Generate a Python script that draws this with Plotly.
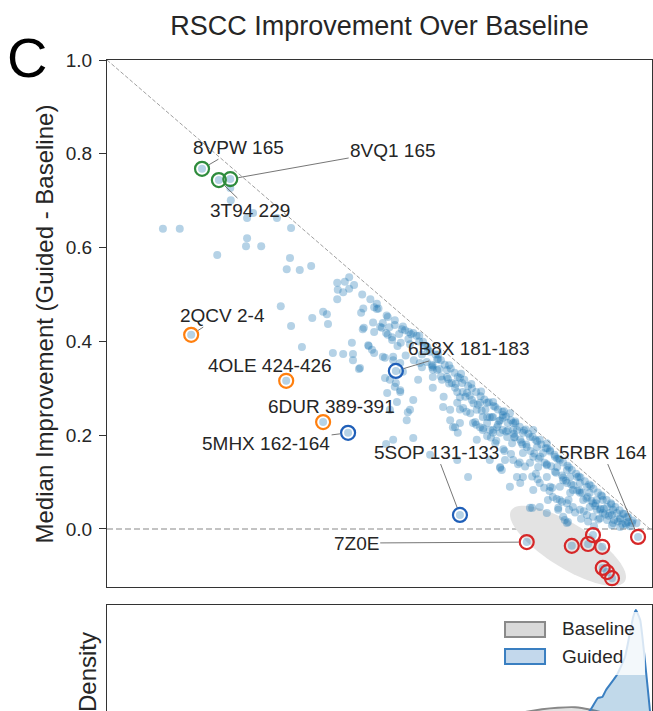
import numpy as np
import plotly.graph_objects as go

# ---------------- data ----------------
baseline_rscc = [
    0.103, 0.134, 0.228, 0.227, 0.269, 0.258, 0.313, 0.339, 0.258, 0.256, 0.284, 0.203, 0.337, 0.331, 0.355, 0.376,
    0.424, 0.425, 0.424, 0.320, 0.378, 0.398, 0.405, 0.339, 0.407, 0.359,
    0.446, 0.438, 0.446, 0.435, 0.468, 0.492, 0.497, 0.497, 0.517, 0.508, 0.530, 0.543, 0.471, 0.492, 0.506, 0.514,
    0.517, 0.525, 0.538, 0.549, 0.556, 0.564, 0.451, 0.482, 0.488, 0.492, 0.541, 0.558, 0.416, 0.435, 0.453, 0.464,
    0.512, 0.527, 0.575, 0.582, 0.591, 0.608, 0.599, 0.608, 0.453, 0.466, 0.473, 0.481, 0.503, 0.508, 0.512, 0.516,
    0.525, 0.530, 0.534, 0.521, 0.527, 0.514, 0.540, 0.554, 0.552, 0.595, 0.665, 0.641, 0.645, 0.711, 0.724, 0.733,
    0.779, 0.810, 0.831, 0.843, 0.847,
    0.527, 0.540, 0.545, 0.521, 0.532, 0.540, 0.564, 0.558, 0.573, 0.576, 0.589, 0.600, 0.610, 0.600, 0.617, 0.600,
    0.626, 0.626, 0.635, 0.641, 0.646, 0.654, 0.619, 0.632, 0.645, 0.650, 0.663, 0.672, 0.656, 0.669, 0.681, 0.687,
    0.692, 0.674, 0.687, 0.700, 0.711, 0.705, 0.718, 0.724, 0.729, 0.738, 0.748, 0.632, 0.637, 0.650, 0.646, 0.681,
    0.715, 0.746, 0.751, 0.564,
    0.700, 0.715, 0.729, 0.700, 0.724, 0.742, 0.748, 0.692, 0.711, 0.729, 0.737, 0.755, 0.766, 0.761, 0.779, 0.785,
    0.773, 0.792, 0.797, 0.810, 0.803, 0.816, 0.825, 0.785, 0.766, 0.748, 0.724, 0.705, 0.727, 0.779, 0.794, 0.810,
    0.829, 0.834, 0.847, 0.853, 0.840, 0.866, 0.871, 0.884, 0.858, 0.871, 0.889, 0.902, 0.895, 0.913, 0.921, 0.908,
    0.932, 0.939, 0.945, 0.958, 0.959, 0.967, 0.810, 0.816, 0.766, 0.761, 0.797, 0.785, 0.821, 0.834, 0.847, 0.858,
    0.871, 0.884, 0.895, 0.908, 0.921, 0.932, 0.945, 0.783, 0.812, 0.831, 0.840, 0.849, 0.797, 0.755, 0.742, 0.847,
    0.877, 0.889, 0.853, 0.834, 0.926, 0.913, 0.902,
    0.560, 0.575, 0.585, 0.595, 0.605, 0.615, 0.622, 0.633, 0.640, 0.650, 0.658, 0.665, 0.672, 0.680, 0.688, 0.695,
    0.703, 0.712, 0.720, 0.728, 0.735, 0.744, 0.752, 0.760, 0.768, 0.776, 0.784, 0.792, 0.800, 0.808, 0.816, 0.824,
    0.832, 0.840, 0.848, 0.856, 0.864, 0.872, 0.880, 0.888, 0.896, 0.904, 0.912, 0.920, 0.928, 0.936, 0.944, 0.952,
    0.960, 0.968, 0.975,
    0.600, 0.615, 0.630, 0.645, 0.660, 0.675, 0.690, 0.705, 0.720, 0.735, 0.750, 0.765, 0.780, 0.795, 0.810, 0.825,
    0.840, 0.855, 0.870, 0.885, 0.900, 0.915, 0.930, 0.945, 0.955,
    0.620, 0.650, 0.680, 0.700, 0.730, 0.760, 0.790, 0.820, 0.850, 0.878, 0.905, 0.930,
    0.580, 0.598, 0.612, 0.628, 0.642, 0.655, 0.668, 0.683, 0.697, 0.709, 0.722, 0.738, 0.749, 0.763, 0.772, 0.787,
    0.798, 0.806, 0.818, 0.827, 0.838, 0.845, 0.859, 0.866, 0.875, 0.883, 0.892, 0.899, 0.909, 0.917, 0.924, 0.934,
    0.941, 0.949, 0.956, 0.963,
    0.662, 0.678, 0.693, 0.707, 0.717, 0.732, 0.744, 0.757, 0.770, 0.783, 0.793, 0.805, 0.815, 0.828, 0.838, 0.851,
    0.862, 0.873, 0.886, 0.897,
    0.570, 0.590, 0.610, 0.630, 0.652, 0.671, 0.689, 0.711, 0.731, 0.752, 0.771, 0.789, 0.811, 0.829, 0.851, 0.869,
    0.891, 0.910, 0.929, 0.950,
    0.455, 0.470, 0.485, 0.500, 0.515, 0.530, 0.545, 0.555, 0.472, 0.490, 0.520, 0.535, 0.550, 0.565, 0.580,
    0.175, 0.206, 0.227, 0.155, 0.330, 0.398, 0.532, 0.444, 0.650, 0.773, 0.856, 0.886, 0.895, 0.912, 0.913, 0.921,
    0.930, 0.978,
]
improvement = [
    0.640, 0.640, 0.701, 0.727, 0.674, 0.663, 0.663, 0.642, 0.620, 0.603, 0.603, 0.584, 0.578, 0.554, 0.552, 0.561,
    0.525, 0.510, 0.490, 0.475, 0.450, 0.463, 0.458, 0.433, 0.437, 0.388,
    0.537, 0.527, 0.512, 0.505, 0.461, 0.473, 0.480, 0.469, 0.452, 0.439, 0.435, 0.426, 0.426, 0.420, 0.429, 0.418,
    0.414, 0.409, 0.416, 0.424, 0.420, 0.418, 0.397, 0.390, 0.382, 0.375, 0.397, 0.394, 0.375, 0.373, 0.373, 0.341,
    0.365, 0.360, 0.412, 0.399, 0.382, 0.362, 0.345, 0.339, 0.360, 0.343, 0.429, 0.392, 0.431, 0.367, 0.322, 0.290,
    0.403, 0.303, 0.271, 0.254, 0.190, 0.181, 0.296, 0.249, 0.232, 0.158, 0.111, 0.217, 0.147, 0.211, 0.130, 0.147,
    0.045, 0.034, 0.045, 0.019, 0.013,
    0.367, 0.354, 0.335, 0.318, 0.311, 0.292, 0.275, 0.254, 0.318, 0.354, 0.356, 0.348, 0.362, 0.324, 0.318, 0.301,
    0.339, 0.324, 0.311, 0.301, 0.324, 0.311, 0.260, 0.254, 0.269, 0.281, 0.290, 0.275, 0.258, 0.247, 0.254, 0.269,
    0.239, 0.226, 0.217, 0.226, 0.239, 0.211, 0.217, 0.205, 0.237, 0.226, 0.211, 0.232, 0.217, 0.226, 0.205, 0.190,
    0.183, 0.183, 0.196, 0.194,
    0.269, 0.260, 0.243, 0.239, 0.232, 0.247, 0.226, 0.211, 0.205, 0.211, 0.196, 0.211, 0.205, 0.190, 0.196, 0.211,
    0.175, 0.175, 0.190, 0.183, 0.162, 0.168, 0.154, 0.154, 0.162, 0.147, 0.132, 0.147, 0.126, 0.141, 0.132, 0.136,
    0.132, 0.147, 0.126, 0.111, 0.104, 0.111, 0.098, 0.090, 0.083, 0.077, 0.077, 0.062, 0.055, 0.062, 0.047, 0.041,
    0.041, 0.034, 0.023, 0.026, 0.015, 0.013, 0.111, 0.090, 0.111, 0.098, 0.098, 0.083, 0.068, 0.062, 0.055, 0.047,
    0.041, 0.030, 0.026, 0.023, 0.019, 0.013, 0.004, 0.045, 0.062, 0.041, 0.026, 0.015, 0.047, 0.111, 0.090, 0.098,
    0.062, 0.047, 0.077, 0.090, 0.034, 0.034, 0.041,
    0.415, 0.400, 0.390, 0.378, 0.372, 0.360, 0.350, 0.342, 0.333, 0.322, 0.318, 0.305, 0.300, 0.292, 0.283, 0.276,
    0.270, 0.262, 0.255, 0.250, 0.240, 0.232, 0.226, 0.218, 0.210, 0.203, 0.196, 0.187, 0.180, 0.172, 0.165, 0.158,
    0.150, 0.142, 0.135, 0.126, 0.118, 0.110, 0.102, 0.095, 0.086, 0.078, 0.070, 0.062, 0.055, 0.047, 0.040, 0.032,
    0.025, 0.018, 0.012,
    0.340, 0.325, 0.310, 0.292, 0.282, 0.268, 0.252, 0.238, 0.222, 0.208, 0.195, 0.180, 0.166, 0.150, 0.138, 0.122,
    0.110, 0.095, 0.082, 0.068, 0.055, 0.043, 0.030, 0.020, 0.012,
    0.282, 0.255, 0.222, 0.198, 0.170, 0.142, 0.118, 0.088, 0.062, 0.038, 0.020, 0.008,
    0.372, 0.350, 0.341, 0.320, 0.309, 0.292, 0.284, 0.265, 0.255, 0.238, 0.230, 0.210, 0.203, 0.185, 0.180, 0.161,
    0.154, 0.141, 0.134, 0.120, 0.114, 0.103, 0.093, 0.082, 0.077, 0.065, 0.060, 0.049, 0.043, 0.031, 0.028, 0.019,
    0.016, 0.010, 0.009, 0.006,
    0.250, 0.228, 0.215, 0.195, 0.188, 0.166, 0.160, 0.138, 0.133, 0.112, 0.106, 0.088, 0.081, 0.064, 0.058, 0.041,
    0.035, 0.022, 0.016, 0.006,
    0.412, 0.388, 0.372, 0.349, 0.331, 0.309, 0.293, 0.271, 0.251, 0.229, 0.212, 0.190, 0.172, 0.150, 0.131, 0.112,
    0.092, 0.072, 0.052, 0.033,
    0.520, 0.500, 0.490, 0.470, 0.455, 0.445, 0.432, 0.405, 0.470, 0.440, 0.430, 0.390, 0.370, 0.360, 0.345,
    0.768, 0.744, 0.746, 0.414, 0.316, 0.228, 0.337, 0.205, 0.030, -0.028, -0.036, -0.032, -0.013, -0.038, -0.083, -0.092,
    -0.105, -0.017,
]

# highlighted cases
hl_x = [0.175, 0.206, 0.227, 0.155, 0.330, 0.398, 0.532, 0.444, 0.650,
        0.773, 0.856, 0.886, 0.895, 0.912, 0.913, 0.921, 0.930, 0.978]
hl_y = [0.768, 0.744, 0.746, 0.414, 0.316, 0.228, 0.337, 0.205, 0.030,
        -0.028, -0.036, -0.032, -0.013, -0.038, -0.083, -0.092, -0.105, -0.017]
hl_group = ["green", "green", "green", "orange", "orange", "orange", "blue", "blue", "blue",
            "red", "red", "red", "red", "red", "red", "red", "red", "red"]

# labels: text, point index into hl arrays, text position, draw connector
label_text = ["8VPW 165", "8VQ1 165", "3T94 229", "2QCV 2-4", "4OLE 424-426", "6DUR 389-391",
              "6B8X 181-183", "5MHX 162-164", "5SOP 131-133", "7Z0E", "5RBR 164"]
label_point = [0, 2, 1, 3, 4, 5, 6, 7, 8, 9, 17]
label_x = [0.243, 0.527, 0.263, 0.212, 0.300, 0.413, 0.667, 0.293, 0.606, 0.459, 0.913]
label_y = [0.814, 0.808, 0.680, 0.456, 0.348, 0.262, 0.384, 0.183, 0.164, -0.030, 0.164]
label_line = [True, True, True, True, False, False, True, True, True, True, True]

# density curves (bottom panel)
guided_x = [0.70, 0.80, 0.85, 0.875, 0.889, 0.904, 0.912, 0.919, 0.939, 0.954, 0.969, 0.974, 0.982, 0.993, 1.000, 1.004]
guided_d = [0.2, 0.6, 1.2, 1.7, 2.0, 2.86, 2.92, 3.39, 4.38, 5.57, 8.21, 8.67, 8.01, 4.51, 2.0, 0.5]
base_x = [0.55, 0.65, 0.72, 0.773, 0.801, 0.83, 0.862, 0.889, 0.92, 0.95, 0.98, 1.0]
base_d = [0.3, 0.8, 1.5, 1.95, 2.12, 2.22, 2.25, 2.1, 1.8, 1.2, 0.5, 0.1]

yticks = [0.0, 0.2, 0.4, 0.6, 0.8, 1.0]

# ---------------- styling ----------------
FONT = "Liberation Sans, Arial, sans-serif"
TXT = "#262626"
colors = {"green": "#2e8b3c", "orange": "#ff7f0e", "blue": "#1f5fb8", "red": "#d62728"}

fig = go.Figure()

fig.add_trace(go.Scatter(
    x=baseline_rscc, y=improvement, mode="markers",
    marker=dict(size=8, color="rgba(31,119,180,0.33)", line=dict(width=0)),
    xaxis="x", yaxis="y", hoverinfo="skip"))

for g in ["green", "orange", "blue", "red"]:
    xs = [x for x, gg in zip(hl_x, hl_group) if gg == g]
    ys = [y for y, gg in zip(hl_y, hl_group) if gg == g]
    fig.add_trace(go.Scatter(
        x=xs, y=ys, mode="markers",
        marker=dict(symbol="circle-open", size=14, color=colors[g], line=dict(width=2.2)),
        xaxis="x", yaxis="y"))

fig.add_trace(go.Scatter(
    x=base_x, y=base_d, mode="lines", fill="tozeroy",
    fillcolor="rgba(170,170,170,0.35)", line=dict(color="#888888", width=2, shape="spline", smoothing=0.6),
    xaxis="x2", yaxis="y2"))
fig.add_trace(go.Scatter(
    x=guided_x, y=guided_d, mode="lines", fill="tozeroy",
    fillcolor="rgba(31,119,180,0.28)", line=dict(color="#3a7fc1", width=2, shape="spline", smoothing=0.4),
    xaxis="x2", yaxis="y2"))

# ellipse around the regressions
ell_c = (0.849, -0.036)
ell_a = (0.1046, -0.0757)
ell_b = (-0.0215, -0.0398)
t = np.linspace(0, 2 * np.pi, 80)
ex = ell_c[0] + ell_a[0] * np.cos(t) + ell_b[0] * np.sin(t)
ey = ell_c[1] + ell_a[1] * np.cos(t) + ell_b[1] * np.sin(t)
ell_path = "M " + " L ".join(f"{a:.5f},{b:.5f}" for a, b in zip(ex, ey)) + " Z"

shapes = [
    dict(type="path", path=ell_path, xref="x", yref="y", fillcolor="#e3e3e3",
         line=dict(width=0), layer="below"),
    dict(type="line", xref="x", yref="y", x0=0, y0=1, x1=1, y1=0,
         line=dict(color="#a0a0a0", width=1, dash="4px,2px"), layer="below"),
    dict(type="line", xref="x domain", yref="y", x0=0, x1=1, y0=0, y1=0,
         line=dict(color="#b0b0b0", width=1.4, dash="6px,3px"), layer="below"),
    # legend frame (semi-transparent, like matplotlib)
    dict(type="rect", xref="paper", yref="paper", x0=0.7156, x1=0.9872, y0=0.0553, y1=0.1521,
         fillcolor="rgba(255,255,255,0.8)", line=dict(width=0), layer="above"),
    dict(type="rect", xref="paper", yref="paper", x0=0.7303, x1=0.8037, y0=0.1137, y1=0.1367,
         fillcolor="#d9d9d9", line=dict(color="#8a8a8a", width=2), layer="above"),
    dict(type="rect", xref="paper", yref="paper", x0=0.7303, x1=0.8037, y0=0.0722, y1=0.0952,
         fillcolor="#c3d8ec", line=dict(color="#3a7fc1", width=2), layer="above"),
]

annotations = []
for txt, pi, lx, ly, ln in zip(label_text, label_point, label_x, label_y, label_line):
    if ln:
        annotations.append(dict(
            x=hl_x[pi], y=hl_y[pi], xref="x", yref="y", ax=lx, ay=ly, axref="x", ayref="y",
            text=txt, showarrow=True, arrowhead=0, arrowwidth=0.9, arrowcolor="#666666",
            standoff=8, font=dict(size=19, color=TXT, family=FONT)))
    else:
        annotations.append(dict(
            x=lx, y=ly, xref="x", yref="y", text=txt, showarrow=False,
            xanchor="center", yanchor="middle",
            font=dict(size=19, color=TXT, family=FONT)))

annotations += [
    dict(text="Median Improvement (Guided - Baseline)", x=-0.1156, y=0.5, xref="paper", yref="y domain",
         xanchor="center", yanchor="middle",
         textangle=-90, showarrow=False, font=dict(size=24, color=TXT, family=FONT)),
    dict(text="Density", x=-0.0367, y=0.0599, xref="paper", yref="paper",
         xanchor="center", yanchor="middle",
         textangle=-90, showarrow=False, font=dict(size=24, color=TXT, family=FONT)),
    dict(text="C", x=-0.1477, y=1.0046, xref="paper", yref="paper", showarrow=False,
         xanchor="center", yanchor="middle",
         font=dict(size=56, color="#000000", family=FONT)),
    dict(text="Baseline", x=0.8312, y=0.126, xref="paper", yref="paper", xanchor="left",
         yanchor="middle", showarrow=False, font=dict(size=19, color=TXT, family=FONT)),
    dict(text="Guided", x=0.8312, y=0.083, xref="paper", yref="paper", xanchor="left",
         yanchor="middle", showarrow=False, font=dict(size=19, color=TXT, family=FONT)),
]

fig.update_layout(
    width=653, height=711,
    margin=dict(l=107, r=1, t=60, b=0),
    paper_bgcolor="white", plot_bgcolor="white",
    showlegend=False,
    font=dict(family=FONT, color=TXT),
    title=dict(text="RSCC Improvement Over Baseline", x=0.5, xref="paper", xanchor="center",
               y=1 - 25.5 / 711, yref="container", yanchor="middle",
               font=dict(size=27, color=TXT, family=FONT)),
    xaxis=dict(domain=[0, 1], range=[0, 1.0037], anchor="y", showline=True, mirror=True,
               linecolor="#333333", linewidth=1.3, showticklabels=False, ticks="",
               showgrid=False, zeroline=False),
    yaxis=dict(domain=[0.1905, 1], range=[-0.1237, 1.0], anchor="x", tickvals=yticks,
               ticktext=[f"{v:.1f}" for v in yticks], ticks="outside", ticklen=7, tickwidth=1.3,
               tickcolor="#333333", showline=True, mirror=True, linecolor="#333333", linewidth=1.3,
               ticklabelstandoff=3,
               showgrid=False, zeroline=False, tickfont=dict(size=19, color=TXT, family=FONT)),
    xaxis2=dict(domain=[0, 1], range=[0, 1.0037], anchor="y2", side="top", showline=True,
                linecolor="#333333", linewidth=1.3, showticklabels=False, ticks="",
                showgrid=False, zeroline=False),
    yaxis2=dict(domain=[0, 0.1628], range=[2.0, 9.0], anchor="x2", showline=True, mirror=True,
                linecolor="#333333", linewidth=1.3, showticklabels=False, ticks="",
                showgrid=False, zeroline=False),
    shapes=shapes,
    annotations=annotations,
)

fig.write_html("out.html")
